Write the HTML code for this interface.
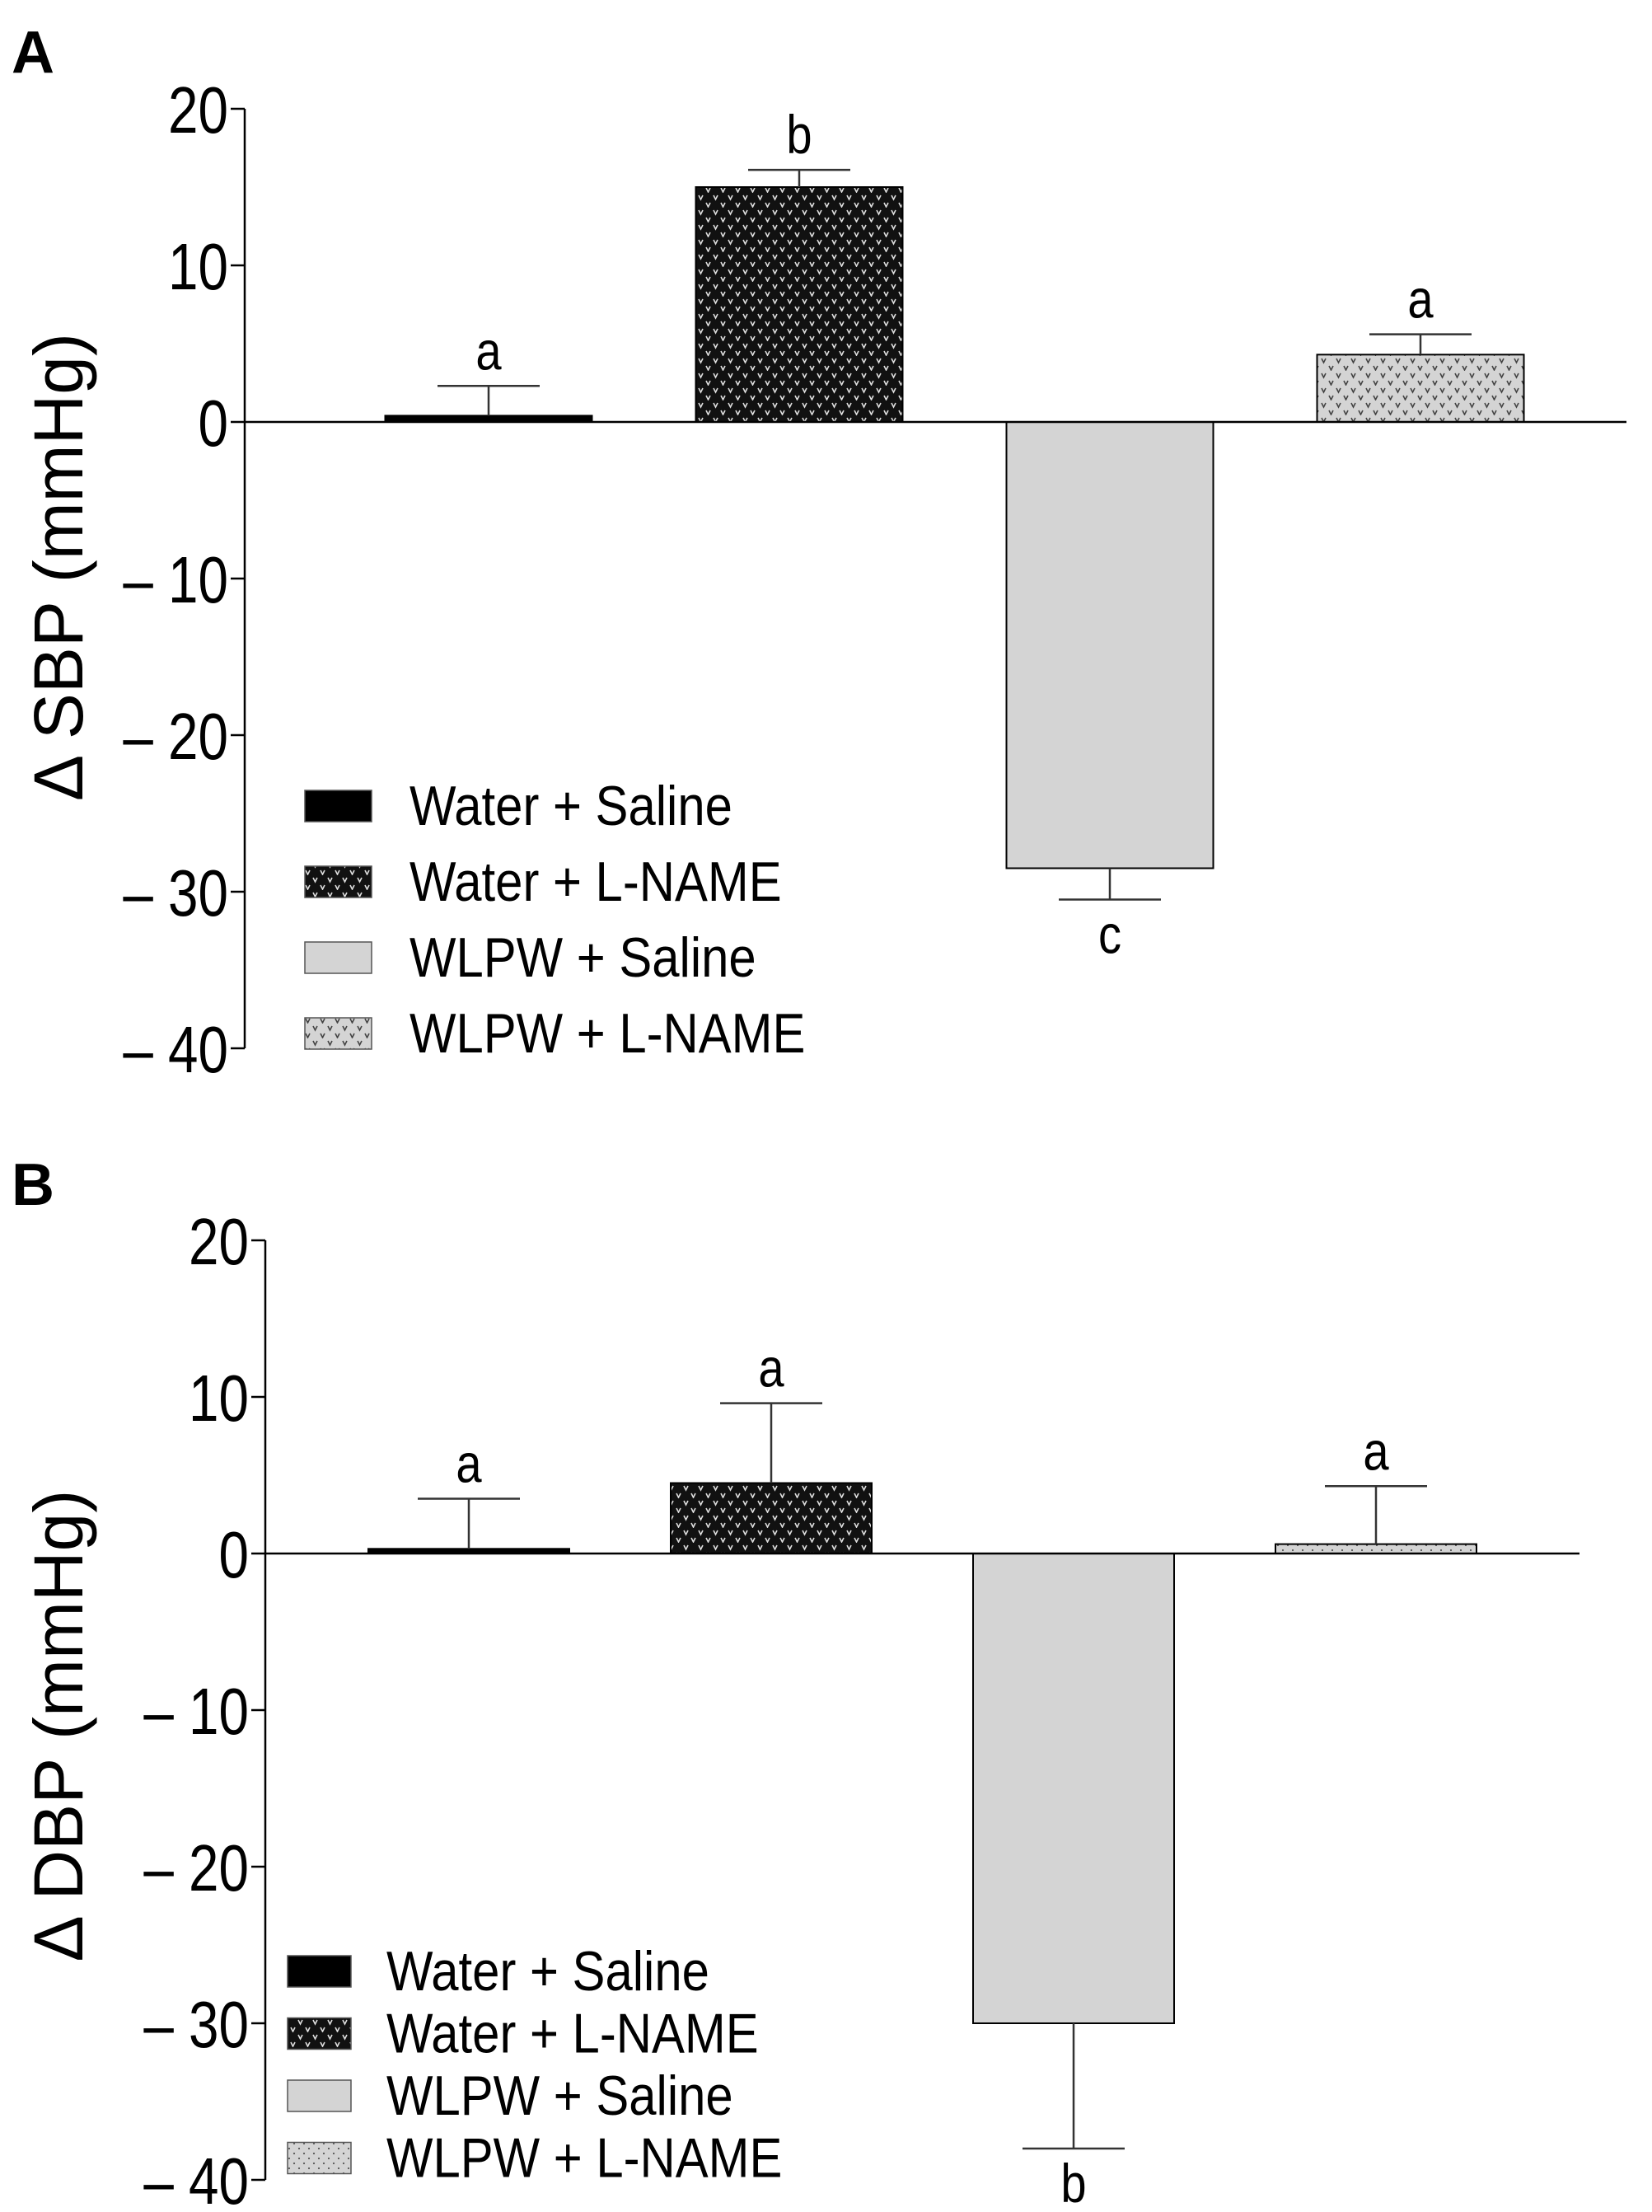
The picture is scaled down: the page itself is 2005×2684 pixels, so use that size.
<!DOCTYPE html>
<html><head><meta charset="utf-8"><style>
html,body{margin:0;padding:0;background:#fff}
svg{display:block}
text{font-family:"Liberation Sans Narrow","Liberation Sans",Arial,sans-serif}
</style></head><body>
<svg id="chart" width="2005" height="2684" viewBox="0 0 2005 2684" xmlns="http://www.w3.org/2000/svg">
<defs>
<pattern id="patDark" width="18" height="18" patternUnits="userSpaceOnUse">
<rect width="18" height="18" fill="#111"/>
<path d="M2 3 L4.5 8 L7 3 M11 12 L13.5 17 L16 12" stroke="#ddd" stroke-width="1.6" fill="none"/>
</pattern>
<pattern id="patLight" width="18" height="18" patternUnits="userSpaceOnUse">
<rect width="18" height="18" fill="#d4d4d4"/>
<path d="M2 3 L4.5 8 L7 3 M11 12 L13.5 17 L16 12" stroke="#444" stroke-width="1.6" fill="none"/>
</pattern>
<pattern id="patDots" width="12" height="12" patternUnits="userSpaceOnUse">
<rect width="12" height="12" fill="#d4d4d4"/>
<circle cx="3" cy="3" r="1.1" fill="#555"/><circle cx="9" cy="9" r="1.1" fill="#555"/>
</pattern>
</defs>
<text x="14" y="88" font-size="72" font-weight="bold" style="font-family:'Liberation Sans',sans-serif">A</text>
<text x="14" y="1462" font-size="72" font-weight="bold" style="font-family:'Liberation Sans',sans-serif">B</text>
<g id="panelA"></g>
<g id="panelB"></g>
</svg>
<script>
const categories = ["Water + Saline","Water + L-NAME","WLPW + Saline","WLPW + L-NAME"];
const sbpValues = [0.4, 15.0, -28.5, 4.3];
const sbpErrors = [1.9, 1.1, 2.0, 1.3];
const sbpLetters = ["a","b","c","a"];
const dbpValues = [0.3, 4.5, -30.0, 0.6];
const dbpErrors = [3.2, 5.1, 8.0, 3.7];
const dbpLetters = ["a","a","b","a"];
const yTicks = [20, 10, 0, -10, -20, -30, -40];
const yTickLabels = ["20","10","0","\u2013 10","\u2013 20","\u2013 30","\u2013 40"];

const NS = "http://www.w3.org/2000/svg";
function mk(parent, tag, attrs, txt){
  const e = document.createElementNS(NS, tag);
  for (const k in attrs) e.setAttribute(k, attrs[k]);
  if (txt !== undefined) e.textContent = txt;
  parent.appendChild(e); return e;
}
const fills = ["#000", "url(#patDark)", "#d4d4d4", "url(#patLight)"];
const fillsB = ["#000", "url(#patDark)", "#d4d4d4", "url(#patDots)"];

function drawPanel(g, cfg, values, errors, letters, title){
  const y = v => cfg.y0 - (v / 10) * cfg.unit;
  const ax = mk(g, "line", {x1:cfg.ax, x2:cfg.ax, y1:y(20), y2:y(-40), stroke:"#000", "stroke-width":2.5});
  
  
  yTicks.forEach((t, i) => {
    const tk = mk(g, "line", {x1:cfg.ax-17, x2:cfg.ax, y1:y(t), y2:y(t), stroke:"#000", "stroke-width":2.5});
    
    
    const lb = mk(g, "text", {x:0, y:0, "font-size":80, "text-anchor":"end", transform:`translate(${cfg.ax-20},${y(t)+29}) scale(0.82,1)`}, yTickLabels[i]);
    
    
  });
  const tt = mk(g, "text", {x:0, y:0, "font-size":84, "text-anchor":"middle", transform:`translate(${cfg.titleX},${cfg.titleY}) rotate(-90)`, style:"font-family:'Liberation Sans',sans-serif"}, title);
  
  
  values.forEach((v, i) => {
    const cx = cfg.x0 + i * cfg.step;
    const top = Math.min(y(v), y(0)), h = Math.abs(y(v) - y(0));
    const b = mk(g, "rect", {x:cx - cfg.bw/2, y:top, width:cfg.bw, height:Math.max(h,1), fill:cfg.fills[i], stroke:"#000", "stroke-width":2});
    
    
    const sign = v >= 0 ? 1 : -1;
    const ye = y(v + sign * errors[i]);
    const e1 = mk(g, "line", {x1:cx, x2:cx, y1:y(v), y2:ye, stroke:"#333", "stroke-width":2.5});
    
    
    const e2 = mk(g, "line", {x1:cx-62, x2:cx+62, y1:ye, y2:ye, stroke:"#333", "stroke-width":2.5});
    
    
    const ly = sign > 0 ? ye - 20 : ye + 65;
    const l = mk(g, "text", {x:0, y:0, "font-size":66, "text-anchor":"middle", transform:`translate(${cx},${ly}) scale(0.85,1)`}, letters[i]);
    
    
  });
  const zl = mk(g, "line", {x1:cfg.ax, x2:cfg.zx2, y1:y(0), y2:y(0), stroke:"#000", "stroke-width":2.5});
  
  
  categories.forEach((c, i) => {
    const ry = cfg.legY[0] + i * cfg.legStep;
    const s = mk(g, "rect", {x:cfg.legX, y:ry-19, width:cfg.legW, height:38, fill:cfg.fills[i], stroke:"#555", "stroke-width":1.5});
    
    
    const t = mk(g, "text", {x:0, y:0, "font-size":68, transform:`translate(${cfg.legTX},${ry+23}) scale(0.88,1)`}, c);
    
    
  });
}
drawPanel(document.getElementById("panelA"),
  {ax:297, y0:512, unit:190, x0:593, step:377, bw:251, zx2:1974, titleX:100, titleY:688,
   fills:fills, legY:[978], legStep:92, legX:370, legW:81, legTX:497},
  sbpValues, sbpErrors, sbpLetters, "\u0394 SBP (mmHg)");
drawPanel(document.getElementById("panelB"),
  {ax:322, y0:1885, unit:190, x0:569, step:367, bw:244, zx2:1917, titleX:100, titleY:2094,
   fills:fillsB, legY:[2392], legStep:75.5, legX:349, legW:77, legTX:469},
  dbpValues, dbpErrors, dbpLetters, "\u0394 DBP (mmHg)");
</script>
</body></html>
